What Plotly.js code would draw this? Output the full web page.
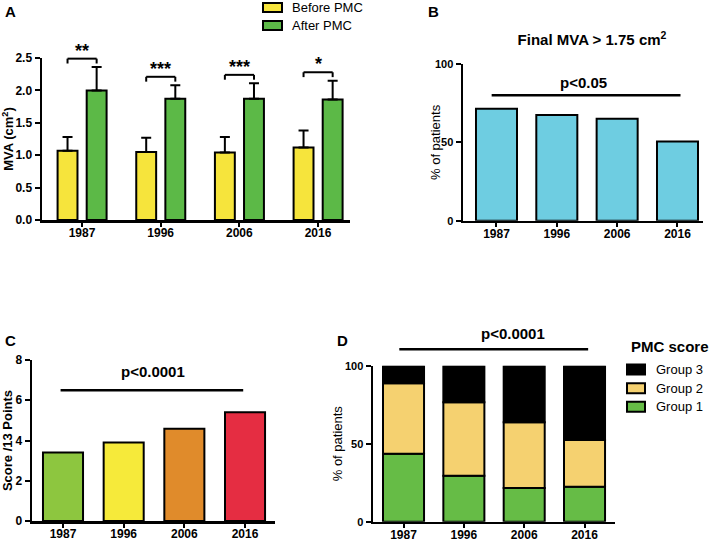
<!DOCTYPE html>
<html>
<head>
<meta charset="utf-8">
<script src="https://cdn.plot.ly/plotly-3.0.1.min.js"></script>
<style>html,body{margin:0;padding:0;background:#fff;}#chart{width:709px;height:541px;}</style>
</head>
<body>
<div id="chart"></div>
<script>
// ---------- data ----------
const years = ['1987', '1996', '2006', '2016'];
// Panel A: MVA (cm2) before / after PMC, mean and SD
const mvaBefore = [1.07, 1.05, 1.04, 1.12];
const mvaBeforeSD = [0.21, 0.22, 0.24, 0.26];
const mvaAfter = [2.00, 1.87, 1.87, 1.86];
const mvaAfterSD = [0.36, 0.21, 0.24, 0.29];
const mvaStars = ['**', '***', '***', '*'];
// Panel B: % of patients with final MVA > 1.75 cm2
const finalMvaPct = [71.5, 67.5, 65, 50.5];
// Panel C: score / 13 points
const scorePts = [3.4, 3.9, 4.58, 5.4];
// Panel D: PMC score groups (% of patients)
const group1 = [43.6, 29.5, 21.6, 22.4];
const group2 = [45.1, 47.0, 42.1, 30.0];
const group3 = [11.3, 23.5, 36.3, 47.6];

// ---------- geometry ----------
const W = 709, H = 541;
const FONT = 'Liberation Sans, Arial, Helvetica, sans-serif';
const panels = {
  A: {px: [42, 350], py: [58, 220], xr: [-0.508, 3.407], yr: [0, 2.5]},
  B: {px: [463, 703], py: [64, 220.7], xr: [-0.555, 3.423], yr: [0, 100]},
  C: {px: [32, 275], py: [360, 521], xr: [-0.511, 3.494], yr: [0, 8]},
  D: {px: [373, 615], py: [365.7, 521.7], xr: [-0.506, 3.505], yr: [0, 100]}
};
function P(pn, xv, yv) {
  const p = panels[pn];
  const x = (p.px[0] + (xv - p.xr[0]) / (p.xr[1] - p.xr[0]) * (p.px[1] - p.px[0])) / W;
  const y = 1 - (p.py[1] - (yv - p.yr[0]) / (p.yr[1] - p.yr[0]) * (p.py[1] - p.py[0])) / H;
  return [x, y];
}
function dom(pn) {
  const p = panels[pn];
  return {x: [p.px[0] / W, p.px[1] / W], y: [1 - p.py[1] / H, 1 - p.py[0] / H]};
}

const line = {color: '#000', width: 2};
const BW = 0.253;
const traces = [
  {type: 'bar', name: 'Before PMC', x: years, y: mvaBefore, xaxis: 'x', yaxis: 'y',
   width: BW, offset: -0.31, marker: {color: '#f6e43c', line: line},
   error_y: {type: 'data', symmetric: false, array: mvaBeforeSD, arrayminus: mvaBeforeSD.map(() => 0),
             color: '#000', thickness: 2, width: 5}, showlegend: false},
  {type: 'bar', name: 'After PMC', x: years, y: mvaAfter, xaxis: 'x', yaxis: 'y',
   width: BW, offset: 0.06, marker: {color: '#5cb947', line: line},
   error_y: {type: 'data', symmetric: false, array: mvaAfterSD, arrayminus: mvaAfterSD.map(() => 0),
             color: '#000', thickness: 2, width: 5}, showlegend: false},
  {type: 'bar', name: 'Final MVA > 1.75 cm2', x: years, y: finalMvaPct, xaxis: 'x2', yaxis: 'y2',
   width: 0.68, marker: {color: '#6ecde1', line: line}, showlegend: false},
  {type: 'bar', name: 'Score /13', x: years, y: scorePts, xaxis: 'x3', yaxis: 'y3',
   width: 0.66, marker: {color: ['#8dc63f', '#f6ea3a', '#e08b2b', '#e52d42'], line: line}, showlegend: false},
  {type: 'bar', name: 'Group 1', x: years, y: group1, base: group1.map(() => 0), xaxis: 'x4', yaxis: 'y4',
   width: 0.68, marker: {color: '#66bc46', line: line}, showlegend: false},
  {type: 'bar', name: 'Group 2', x: years, y: group2, base: group1.slice(), xaxis: 'x4', yaxis: 'y4',
   width: 0.68, marker: {color: '#f5d170', line: line}, showlegend: false},
  {type: 'bar', name: 'Group 3', x: years, y: group3, base: group1.map((v, i) => v + group2[i]), xaxis: 'x4', yaxis: 'y4',
   width: 0.68, marker: {color: '#000000', line: line}, showlegend: false}
];

function xax(pn, anchor) {
  const p = panels[pn];
  return {domain: dom(pn).x, anchor: anchor, type: 'category', range: p.xr,
    showline: true, linecolor: '#000', linewidth: 2.5, ticks: 'outside', ticklen: 4, tickwidth: 2, tickcolor: '#000',
    ticklabelstandoff: -4,
    showgrid: false, zeroline: false, fixedrange: true,
    tickfont: {family: FONT, size: 12, color: '#000', weight: 'bold'}};
}
function yax(pn, anchor, tickvals, fmt, title, bold, standoff, tsize) {
  const p = panels[pn];
  const ax = {domain: dom(pn).y, anchor: anchor, range: p.yr, tickvals: tickvals, tickformat: fmt,
    showline: true, linecolor: '#000', linewidth: 2.5, ticks: 'outside', ticklen: 5, tickwidth: 2, tickcolor: '#000',
    showgrid: false, zeroline: false, fixedrange: true,
    tickfont: {family: FONT, size: tsize, color: '#000', weight: 'bold'}};
  if (title) ax.title = {text: title, standoff: standoff, font: {family: FONT, size: 13, color: '#000', weight: bold ? 'bold' : 'normal'}};
  return ax;
}

const shapes = [];
const annotations = [];
function seg(pn, x0, y0, x1, y1, w) {
  const a = P(pn, x0, y0), b = P(pn, x1, y1);
  shapes.push({type: 'line', xref: 'paper', yref: 'paper', x0: a[0], y0: a[1], x1: b[0], y1: b[1],
    line: {color: '#000', width: w || 2}});
}
function txt(x, y, text, size, bold, xanchor, yanchor, extra) {
  annotations.push(Object.assign({xref: 'paper', yref: 'paper', x: x, y: y, text: text, showarrow: false,
    xanchor: xanchor || 'center', yanchor: yanchor || 'middle',
    font: {family: FONT, size: size, color: '#000', weight: bold ? 'bold' : 'normal'}}, extra || {}));
}

// Panel A significance brackets
const cY = -0.31 + BW / 2, cG = 0.06 + BW / 2;
years.forEach((yr, i) => {
  const yb = mvaAfter[i] + mvaAfterSD[i] + 0.13;
  seg('A', i + cY, yb, i + cG, yb, 2);
  seg('A', i + cY, yb, i + cY, yb - 0.075, 2);
  seg('A', i + cG, yb, i + cG, yb - 0.075, 2);
  const t = P('A', i + (cY + cG) / 2, yb);
  txt(t[0], t[1], mvaStars[i], 18, true, 'center', 'bottom', {yshift: -4});
});

// Panel B
seg('B', -0.08, 80, 3.05, 80, 2.5);
let q = P('B', 1.45, 88.5); txt(q[0], q[1], 'p<0.05', 15, true);
// B y-axis title
txt(435 / W, 1 - 142 / H, '% of patients', 13, false, 'center', 'middle', {textangle: -90});
// Panel C
seg('C', -0.04, 6.5, 2.97, 6.5, 2.5);
q = P('C', 1.49, 7.42); txt(q[0], q[1], 'p<0.0001', 15, true);
// Panel D
seg('D', -0.07, 110.5, 3.06, 110.5, 2.5);
q = P('D', 1.81, 120.8); txt(q[0], q[1], 'p<0.0001', 15, true);

// Panel letters
txt(10 / W, 1 - 12 / H, 'A', 15, true);
txt(433 / W, 1 - 12 / H, 'B', 15, true);
txt(10 / W, 1 - 340 / H, 'C', 15, true);
txt(342 / W, 1 - 340 / H, 'D', 15, true);

// Legend A
function swatch(x0, x1, yc, h, color) {
  shapes.push({type: 'rect', xref: 'paper', yref: 'paper', x0: x0 / W, x1: x1 / W,
    y0: 1 - (yc + h / 2) / H, y1: 1 - (yc - h / 2) / H, fillcolor: color, line: {color: '#000', width: 2}});
}
swatch(263, 282, 7.5, 9, '#f6e43c');
txt(290 / W, 1 - 7.5 / H, 'Before PMC', 13, false, 'left');
swatch(263, 282, 25.5, 9, '#5cb947');
txt(290 / W, 1 - 25.5 / H, 'After PMC', 13, false, 'left');

// Legend D
txt(629 / W, 1 - 346 / H, 'PMC score', 15, true, 'left');
swatch(627, 645, 369.5, 10, '#000000');
txt(654 / W, 1 - 369.5 / H, 'Group 3', 13, false, 'left');
swatch(627, 645, 388.3, 10, '#f5d170');
txt(654 / W, 1 - 388.3 / H, 'Group 2', 13, false, 'left');
swatch(627, 645, 406.7, 10, '#66bc46');
txt(654 / W, 1 - 406.7 / H, 'Group 1', 13, false, 'left');

const layout = {
  width: W, height: H, margin: {l: 0, r: 0, t: 0, b: 0},
  paper_bgcolor: '#fff', plot_bgcolor: 'rgba(0,0,0,0)',
  barmode: 'overlay', showlegend: false,
  font: {family: FONT, color: '#000'},
  title: {text: 'Final MVA > 1.75 cm<sup>2</sup>', x: 592 / W, y: 1 - 40 / H, xanchor: 'center', yanchor: 'middle',
          font: {family: FONT, size: 15, color: '#000', weight: 'bold'}},
  xaxis: xax('A', 'y'),
  yaxis: yax('A', 'x', [0, 0.5, 1, 1.5, 2, 2.5], '.1f', 'MVA (cm<sup>2</sup>)', true, 6, 12),
  xaxis2: xax('B', 'y2'),
  yaxis2: yax('B', 'x2', [0, 50, 100], 'd', null, false, 0, 11),
  xaxis3: xax('C', 'y3'),
  yaxis3: yax('C', 'x3', [0, 2, 4, 6, 8], 'd', 'Score /13 Points', true, 6, 12),
  xaxis4: xax('D', 'y4'),
  yaxis4: yax('D', 'x4', [0, 50, 100], 'd', '% of patients', false, 0, 11),
  shapes: shapes,
  annotations: annotations
};

Plotly.newPlot('chart', traces, layout, {displayModeBar: false, staticPlot: true});
</script>
</body>
</html>
